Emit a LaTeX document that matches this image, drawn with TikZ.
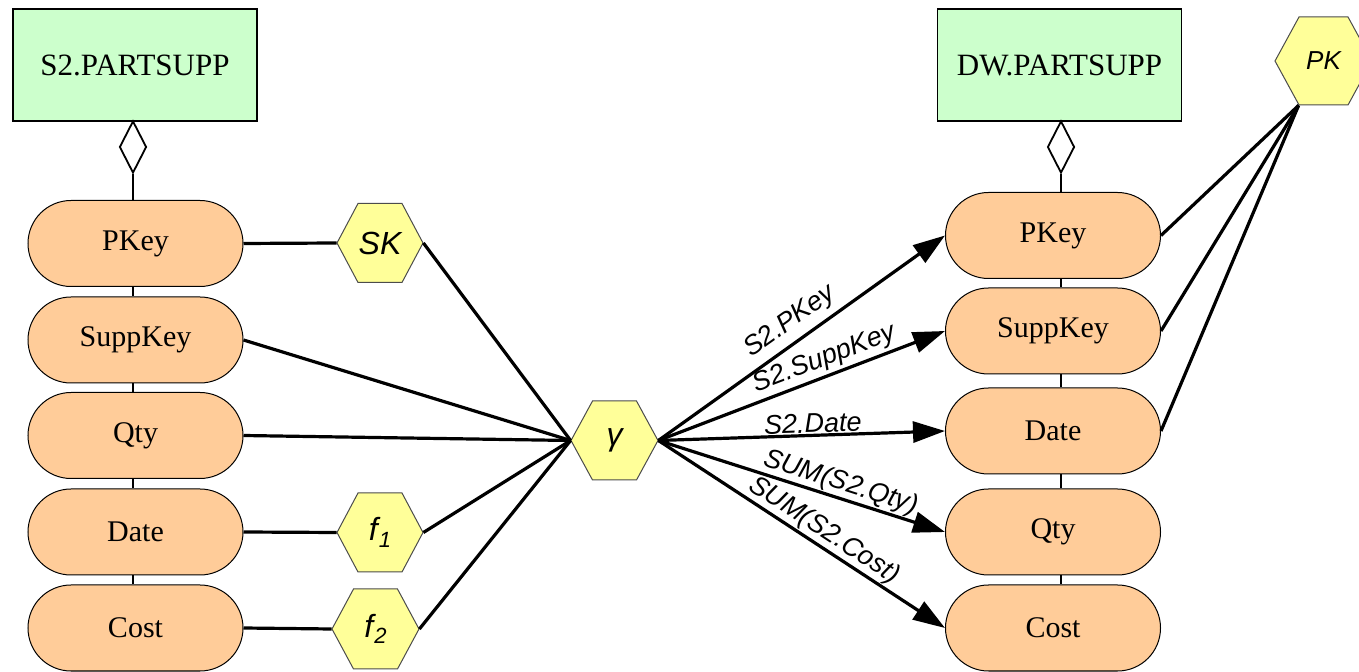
\documentclass[tikz,border=0pt]{standalone}
\usepackage{fontspec}
\setmainfont{Liberation Serif}
\newfontfamily\lsans{Liberation Sans}
\usetikzlibrary{arrows.meta,shapes.geometric}
\definecolor{tblgreen}{HTML}{CCFFCC}
\definecolor{attrorange}{HTML}{FFCC99}
\definecolor{opyellow}{HTML}{FFFF99}

\begin{document}
\begin{tikzpicture}[x=0.5pt,y=-0.5pt,
  table/.style={draw, line width=0.9pt, fill=tblgreen, minimum width=122pt, minimum height=56pt, inner sep=0, font=\fontsize{15.5}{18}\selectfont},
  attr/.style={draw, line width=0.5pt, fill=attrorange, rounded corners=21.5pt, minimum width=107.5pt, minimum height=43pt, inner sep=0, font=\fontsize{15}{18}\selectfont},
  agg/.style={draw, line width=0.9pt, fill=white, diamond, inner sep=0, minimum width=13.5pt, minimum height=26pt},
  hexshape/.style={draw=black!70, line width=0.5pt, fill=opyellow},
  hexlabel/.style={inner sep=0, minimum height=39.5pt, font=\lsans\itshape\fontsize{16}{19}\selectfont},
  link/.style={line width=0.9pt},
  flow/.style={line width=1.6pt},
  map/.style={line width=1.6pt, -{Triangle[length=16pt,width=10.5pt]}},
  maplabel/.style={sloped, above, inner sep=1.5pt, font=\lsans\itshape\fontsize{13.5}{16}\selectfont},
]
\useasboundingbox (0,0) rectangle (1359,672);

% operator hexagons (centre x, centre y, half width, half height, half top edge)
\foreach \cx/\cy/\hw/\hh/\tw in {380/243/43/39.5/22, 614.5/440.5/43.5/39.5/22,
    380/532.5/43/39.5/22, 375.5/629/43.5/40/22, 1323.5/61/48.5/44/24.5}
  \draw[hexshape] (\cx-\hw,\cy) -- (\cx-\tw,\cy-\hh) -- (\cx+\tw,\cy-\hh)
    -- (\cx+\hw,\cy) -- (\cx+\tw,\cy+\hh) -- (\cx-\tw,\cy+\hh) -- cycle;

\node[hexlabel, minimum width=43pt] (sk) at (380,243) {SK};
\node[hexlabel, minimum width=43.5pt] (gamma) at (614.5,440.5) {γ};
\node[hexlabel, minimum width=43pt] (f1) at (380,532.5) {f\kern0.5pt\raisebox{-0.4ex}{\fontsize{11}{13}\selectfont 1}};
\node[hexlabel, minimum width=43.5pt, minimum height=40pt] (f2) at (375.5,629) {f\kern0.5pt\raisebox{-0.4ex}{\fontsize{11}{13}\selectfont 2}};
\node[hexlabel, minimum width=48.5pt, minimum height=44pt, font=\lsans\itshape\fontsize{13}{15}\selectfont] (pk) at (1323.5,61) {PK};

% source table
\node[table] (ltab) at (135,65) {S2.PARTSUPP};
\node[agg] (ldia) at (133,147) {};
\node[attr] (lpkey) at (135.5,243.5) {PKey};
\node[attr] (lsupp) at (135.5,340) {SuppKey};
\node[attr] (lqty)  at (135.5,435.5) {Qty};
\node[attr] (ldate) at (135.5,532) {Date};
\node[attr] (lcost) at (135.5,628) {Cost};

% target table
\node[table] (rtab) at (1059.5,65) {DW.PARTSUPP};
\node[agg] (rdia) at (1061,147) {};
\node[attr] (rpkey) at (1053,235.5) {PKey};
\node[attr] (rsupp) at (1053,331) {SuppKey};
\node[attr] (rdate) at (1053,431) {Date};
\node[attr] (rqty)  at (1053,532) {Qty};
\node[attr] (rcost) at (1053,628) {Cost};

% attribute chains
\draw[link] (ldia.south) -- (ldia.south |- lpkey.north);
\draw[link] (ldia.south |- lpkey.south) -- (ldia.south |- lsupp.north);
\draw[link] (ldia.south |- lsupp.south) -- (ldia.south |- lqty.north);
\draw[link] (ldia.south |- lqty.south) -- (ldia.south |- ldate.north);
\draw[link] (ldia.south |- ldate.south) -- (ldia.south |- lcost.north);
\draw[link] (rdia.south) -- (rdia.south |- rpkey.north);
\draw[link] (rdia.south |- rpkey.south) -- (rdia.south |- rsupp.north);
\draw[link] (rdia.south |- rsupp.south) -- (rdia.south |- rdate.north);
\draw[link] (rdia.south |- rdate.south) -- (rdia.south |- rqty.north);
\draw[link] (rdia.south |- rqty.south) -- (rdia.south |- rcost.north);

% source side flows
\draw[flow] (lpkey.east) -- (sk.west);
\draw[flow] (sk.east) -- (gamma.west);
\draw[flow] (lsupp.east) -- (gamma.west);
\draw[flow] (lqty.east) -- (gamma.west);
\draw[flow] (ldate.east) -- (f1.west);
\draw[flow] (f1.east) -- (gamma.west);
\draw[flow] (lcost.east) -- (f2.west);
\draw[flow] (f2.east) -- (gamma.west);

% mappings into the target
\draw[map] (gamma.east) -- node[maplabel, pos=0.5, inner sep=3pt] {S2.PKey} (rpkey.west);
\draw[map] (gamma.east) -- node[maplabel, pos=0.6] {S2.SuppKey} (rsupp.west);
\draw[map] (gamma.east) -- node[maplabel, pos=0.54, inner sep=0.5pt] {S2.Date} (rdate.west);
\draw[map] (gamma.east) -- node[maplabel, pos=0.62, inner sep=0.5pt] {SUM(S2.Qty)} (rqty.west);
\draw[map] (gamma.east) -- node[maplabel, pos=0.55, inner sep=0.5pt] {SUM(S2.Cost)} (rcost.west);

% primary key constraint
\draw[flow] ([xshift=12pt]pk.south west) -- (rpkey.east);
\draw[flow] ([xshift=12pt]pk.south west) -- (rsupp.east);
\draw[flow] ([xshift=12pt]pk.south west) -- (rdate.east);
\end{tikzpicture}
\end{document}
